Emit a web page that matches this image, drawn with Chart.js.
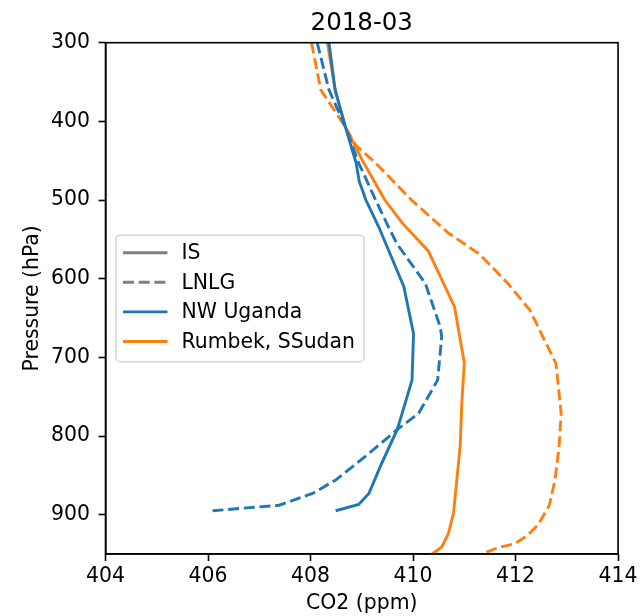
<!DOCTYPE html>
<html>
<head>
<meta charset="utf-8">
<script src="https://cdn.jsdelivr.net/npm/chart.js@4/dist/chart.umd.min.js"></script>
<style>
html,body{margin:0;padding:0;background:#fff;}
#wrap{width:641px;height:616px;}
</style>
</head>
<body>
<div id="wrap"><canvas id="c" width="641" height="616"></canvas></div>
<script>
// ---- data ----
const chartTitle = '2018-03';
const xTicks = [404, 406, 408, 410, 412, 414];
const yTicks = [300, 400, 500, 600, 700, 800, 900];

const ugandaIS_p   = [300, 360, 407, 453, 476, 500, 534, 610, 670, 729, 775, 792, 839, 873, 887, 895];
const ugandaIS_co2 = [408.36, 408.48, 408.68, 408.89, 408.95, 409.08, 409.33, 409.82, 410.01, 409.98, 409.77, 409.69, 409.36, 409.14, 408.94, 408.49];

const ugandaLN_p   = [300, 360, 407, 453, 500, 534, 556, 606, 661, 674, 729, 771, 792, 826, 856, 873, 888, 895];
const ugandaLN_co2 = [408.13, 408.36, 408.68, 408.94, 409.27, 409.52, 409.69, 410.24, 410.53, 410.56, 410.48, 410.11, 409.69, 409.07, 408.49, 408.04, 407.39, 406.09];

const rumbekIS_p   = [300, 360, 407, 453, 500, 530, 565, 636, 707, 760, 813, 898, 924, 941, 952];
const rumbekIS_co2 = [408.33, 408.48, 408.68, 409.04, 409.45, 409.80, 410.30, 410.81, 411.00, 410.95, 410.92, 410.79, 410.69, 410.56, 410.33];

const rumbekLN_p   = [300, 360, 407, 430, 453, 500, 542, 569, 606, 640, 708, 771, 813, 856, 888, 913, 926, 937, 942, 950];
const rumbekLN_co2 = [408.02, 408.20, 408.68, 408.88, 409.27, 409.97, 410.69, 411.30, 411.85, 412.28, 412.79, 412.89, 412.85, 412.77, 412.66, 412.44, 412.24, 411.98, 411.66, 411.34];

const legendLabels = ['IS', 'LNLG', 'NW Uganda', 'Rumbek, SSudan'];
// ---- styles ----
const BLUE = '#1f77b4', ORANGE = '#ff7f0e', GREY = '#7f7f7f';
const DASH = [11, 4.7];
const LW = 2.9;
const FONT = "'DejaVu Sans', sans-serif";
const FS = 20.4;

function pts(p, v){ return p.map((y,i)=>({x:v[i], y:y})); }

function ds(label, p, v, color, dashed){
  return {label, data: pts(p, v), borderColor: color, backgroundColor: color,
    borderWidth: LW, borderDash: dashed ? DASH : [], showLine: true,
    pointRadius: 0, pointHoverRadius: 0, tension: 0, fill: false};
}

const legendItems = [
  {text: legendLabels[0], color: GREY, dash: []},
  {text: legendLabels[1], color: GREY, dash: DASH},
  {text: legendLabels[2], color: BLUE, dash: []},
  {text: legendLabels[3], color: ORANGE, dash: []},
];

const framePlugin = {
  id: 'frame',
  afterDatasetsDraw(chart){
    const {ctx, chartArea:a} = chart;
    ctx.save();
    ctx.strokeStyle = '#000';
    ctx.lineWidth = 1.6;
    ctx.strokeRect(a.left, a.top, a.right - a.left, a.bottom - a.top);
    ctx.restore();
  }
};

const titlePlugin = {
  id: 'axesTitle',
  afterDraw(chart){
    const {ctx, chartArea:a} = chart;
    ctx.save();
    ctx.font = '24.5px ' + FONT;
    ctx.fillStyle = '#000';
    ctx.textAlign = 'center';
    ctx.textBaseline = 'alphabetic';
    ctx.fillText(chartTitle, (a.left + a.right) / 2, a.top - 12.5);
    ctx.restore();
  }
};

const legendPlugin = {
  id: 'boxLegend',
  afterDraw(chart){
    const {ctx, chartArea:a} = chart;
    const x0 = a.left + 10.5, y0 = a.top + 192.5, w = 248, h = 126.5, r = 4;
    ctx.save();
    ctx.beginPath();
    ctx.moveTo(x0 + r, y0);
    ctx.arcTo(x0 + w, y0, x0 + w, y0 + h, r);
    ctx.arcTo(x0 + w, y0 + h, x0, y0 + h, r);
    ctx.arcTo(x0, y0 + h, x0, y0, r);
    ctx.arcTo(x0, y0, x0 + w, y0, r);
    ctx.closePath();
    ctx.fillStyle = 'rgba(255,255,255,0.8)';
    ctx.fill();
    ctx.strokeStyle = '#d6d6d6';
    ctx.lineWidth = 1.6;
    ctx.stroke();
    ctx.font = FS + 'px ' + FONT;
    ctx.textBaseline = 'middle';
    ctx.fillStyle = '#000';
    legendItems.forEach((it, i) => {
      const cy = y0 + 17.5 + i * 29.6;
      ctx.beginPath();
      ctx.setLineDash(it.dash);
      ctx.strokeStyle = it.color;
      ctx.lineWidth = LW;
      ctx.moveTo(x0 + 7, cy);
      ctx.lineTo(x0 + 51.5, cy);
      ctx.stroke();
      ctx.setLineDash([]);
      ctx.fillText(it.text, x0 + 65.5, cy + 1);
    });
    ctx.restore();
  }
};

const tickFont = {family: FONT, size: FS};

new Chart(document.getElementById('c'), {
  type: 'scatter',
  data: {
    datasets: [
      ds('NW Uganda IS', ugandaIS_p, ugandaIS_co2, BLUE, false),
      ds('NW Uganda LNLG', ugandaLN_p, ugandaLN_co2, BLUE, true),
      ds('Rumbek IS', rumbekIS_p, rumbekIS_co2, ORANGE, false),
      ds('Rumbek LNLG', rumbekLN_p, rumbekLN_co2, ORANGE, true),
    ]
  },
  options: {
    responsive: false,
    animation: false,
    devicePixelRatio: 1,
    layout: {padding: {left: 0, right: 20, top: 42.7, bottom: 0}},
    plugins: {
      legend: {display: false},
      tooltip: {enabled: false},
      title: {display: false}
    },
    scales: {
      x: {
        type: 'linear', min: 404, max: 414,
        afterBuildTicks(s){ s.ticks = xTicks.map(v => ({value: v})); },
        afterFit(s){ s.height = 62; },
        ticks: {color: '#000', font: tickFont, padding: 3.5, maxRotation: 0},
        grid: {display: true, drawOnChartArea: false, drawTicks: true, tickLength: 7,
          tickWidth: 1.6, tickColor: '#000'},
        border: {display: true, color: '#000', width: 1.6},
        title: {display: true, text: 'CO2 (ppm)', color: '#000', font: tickFont,
          padding: {top: 0, bottom: 0}}
      },
      y: {
        type: 'linear', min: 300, max: 950, reverse: true,
        afterBuildTicks(s){ s.ticks = yTicks.map(v => ({value: v})); },
        afterFit(s){ s.width = 105.5; },
        ticks: {color: '#000', font: tickFont, padding: 8.5},
        grid: {display: true, drawOnChartArea: false, drawTicks: true, tickLength: 7,
          tickWidth: 1.6, tickColor: '#000'},
        border: {display: true, color: '#000', width: 1.6},
        title: {display: true, text: 'Pressure (hPa)', color: '#000', font: tickFont,
          padding: {top: 20.8, bottom: 0}}
      }
    }
  },
  plugins: [framePlugin, titlePlugin, legendPlugin]
});
</script>
</body>
</html>
